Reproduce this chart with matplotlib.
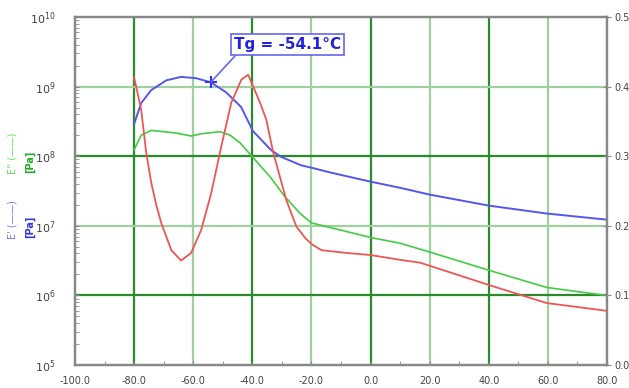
import matplotlib
matplotlib.use("Agg")
import matplotlib.pyplot as plt
import numpy as np
from matplotlib.ticker import LogLocator, MultipleLocator, FormatStrFormatter, NullFormatter

# E' storage modulus (blue), Pa
temp_e1 = [-80, -77.6, -74.2, -69.1, -64.1, -59.0, -54.0, -48.9, -43.8, -39.8, -33.7,
           -30.3, -23.5, -19.8, -13.4, 0.1, 10.2, 20.1, 40.0, 59.6, 79.6]
e1 = [2.9e8, 5.8e8, 8.9e8, 1.23e9, 1.38e9, 1.32e9, 1.15e9, 8.3e8, 5.1e8, 2.3e8, 1.23e8,
      9.8e7, 7.4e7, 6.8e7, 5.8e7, 4.3e7, 3.5e7, 2.8e7, 1.95e7, 1.5e7, 1.23e7]

# E'' loss modulus (green), Pa
temp_e2 = [-80, -77.6, -74.2, -65.8, -60.7, -57.3, -50.9, -47.5, -44.1, -40.0, -33.9,
           -28.9, -23.8, -20.0, -10.2, 0.0, 10.1, 20.0, 40.0, 59.6, 79.6]
e2 = [1.23e8, 2.0e8, 2.35e8, 2.15e8, 1.95e8, 2.1e8, 2.25e8, 2.0e8, 1.55e8, 9.8e7, 5.0e7,
      2.6e7, 1.5e7, 1.1e7, 8.7e6, 6.8e6, 5.6e6, 4.2e6, 2.3e6, 1.3e6, 1.0e6]

# tan delta (red), right axis
temp_tan = [-80, -79.3, -77.6, -75.9, -74.2, -72.5, -70.8, -67.4, -64.1, -60.7, -57.3,
            -53.9, -50.5, -47.1, -43.7, -41.4, -39.7, -37.5, -35.3, -32.9, -28.5, -25.1,
            -22.0, -19.7, -16.6, -8.2, 0.0, 10.1, 16.8, 40.0, 59.6, 79.6]
tan_d = [0.413, 0.40, 0.367, 0.305, 0.262, 0.230, 0.204, 0.165, 0.150, 0.161, 0.194,
         0.247, 0.314, 0.377, 0.41, 0.417, 0.40, 0.378, 0.353, 0.305, 0.237, 0.199,
         0.182, 0.173, 0.165, 0.161, 0.158, 0.151, 0.147, 0.115, 0.089, 0.078]

tg_temp = -54.1
tg_value = 1.15e9

x_ticks = [-100, -80, -60, -40, -20, 0, 20, 40, 60, 80]
right_ticks = [0.0, 0.1, 0.2, 0.3, 0.4, 0.5]

fig = plt.figure(figsize=(6.29, 3.88), dpi=100)
ax = fig.add_axes([0.1192, 0.0593, 0.8458, 0.8969])
ax2 = ax.twinx()

ax.set_xlim(-100, 80)
ax.set_yscale("log")
ax.set_ylim(1e5, 1e10)
ax2.set_ylim(0, 0.5)

dark_grid = "#2b8a2b"
light_grid = "#9fd09f"
for v in x_ticks[1:-1]:
    c = dark_grid if v % 40 == 0 else light_grid
    ax.axvline(v, color=c, lw=1.6, zorder=0)
for p in range(6, 10):
    c = dark_grid if p % 2 == 0 else light_grid
    ax.axhline(10.0 ** p, color=c, lw=1.6, zorder=0)

ax.plot(temp_e1, e1, color="#5555f0", lw=1.4, zorder=3)
ax.plot(temp_e2, e2, color="#44cc44", lw=1.2, zorder=3)
ax2.plot(temp_tan, tan_d, color="#f05555", lw=1.3, zorder=3)

ax.plot([tg_temp], [tg_value], marker="+", ms=9, mew=1.5, color="#3333ee", zorder=4)
ax.annotate("Tg = -54.1°C", xy=(tg_temp, tg_value), xytext=(-28.0, 4.0e9),
            ha="center", va="center", fontsize=11, fontweight="bold", color="#2222dd",
            bbox=dict(boxstyle="square,pad=0.2", fc="white", ec="#6666ee", lw=1.2),
            arrowprops=dict(arrowstyle="-", color="#6666ee", lw=1.2,
                            shrinkA=0, shrinkB=0, relpos=(0.04, 0.0)),
            zorder=5)

# axes styling
spine_c = "#888888"
for ax_ in (ax, ax2):
    for s in ax_.spines.values():
        s.set_color(spine_c)
        s.set_linewidth(1.6)

tick_c = "#444444"
ax.set_xticks(x_ticks)
ax.xaxis.set_major_formatter(FormatStrFormatter("%.1f"))
ax.xaxis.set_minor_locator(MultipleLocator(10))
ax.tick_params(axis="x", which="both", direction="in", length=3, colors=spine_c,
               labelcolor=tick_c, labelsize=7, pad=8)
ax.yaxis.set_major_locator(LogLocator(base=10, numticks=10))
ax.yaxis.set_minor_locator(LogLocator(base=10, subs=np.arange(2, 10), numticks=20))
ax.yaxis.set_minor_formatter(NullFormatter())
ax.tick_params(axis="y", which="both", direction="in", length=3, colors=spine_c,
               labelcolor=tick_c, labelsize=8, pad=14)

ax2.set_yticks(right_ticks)
ax2.yaxis.set_major_formatter(FormatStrFormatter("%.1f"))
ax2.tick_params(axis="y", direction="inout", length=6, colors=spine_c,
                labelcolor=tick_c, labelsize=7, pad=2)

# y axis labels
fig.text(0.020, 0.606, "E'' (——)", rotation=90, color="#66dd66", fontsize=7,
         ha="center", va="center")
fig.text(0.048, 0.582, "[Pa]", rotation=90, color="#22aa22", fontsize=7,
         fontweight="bold", ha="center", va="center")
fig.text(0.020, 0.433, "E' (——)", rotation=90, color="#7777ee", fontsize=7,
         ha="center", va="center")
fig.text(0.048, 0.415, "[Pa]", rotation=90, color="#3333dd", fontsize=7,
         fontweight="bold", ha="center", va="center")

fig.savefig("out.png", dpi=100)
plt.close(fig)
